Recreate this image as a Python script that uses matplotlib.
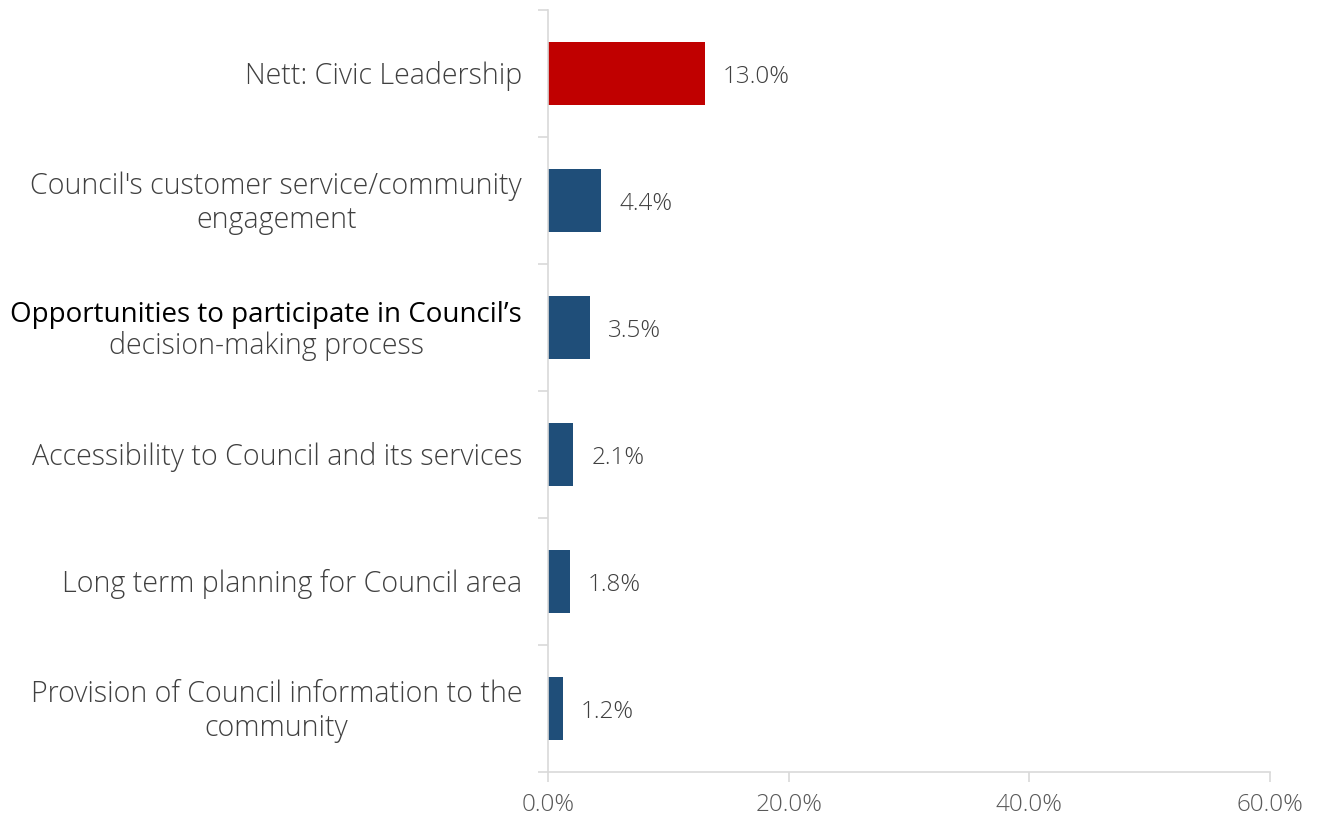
import matplotlib.pyplot as plt

plt.rcParams['font.family'] = ['Open Sans', 'DejaVu Sans']

categories = [
    "Nett: Civic Leadership",
    "Council's customer service/community\nengagement",
    "Opportunities to participate in Council\u2019s\ndecision-making process",
    "Accessibility to Council and its services",
    "Long term planning for Council area",
    "Provision of Council information to the\ncommunity",
]
values = [13.0, 4.4, 3.5, 2.1, 1.8, 1.2]
colors = ["#C00000", "#1F4E79", "#1F4E79", "#1F4E79", "#1F4E79", "#1F4E79"]
xticks = [0, 20, 40, 60]

fig = plt.figure(figsize=(13.2, 8.19), dpi=100)
ax = fig.add_axes([0.4152, 0.0574, 0.5470, 0.9304])

pos = list(range(len(categories)))
ax.barh(pos, values, height=0.5, color=colors)
for y, v in zip(pos, values):
    ax.text(v + 1.5, y + 0.03, f"{v:.1f}%", va="center", ha="left",
            fontsize=17.5, fontweight="light", color="#404040")

ax.set_xlim(0, 60)
ax.set_ylim(len(categories) - 0.5, -0.5)
ax.set_xticks(xticks)
ax.set_xticklabels([f"{t:.1f}%" for t in xticks], fontsize=17.5,
                   fontweight="light", color="#595959")

# category labels drawn as text, right aligned against the spine
ax.set_yticks([])
lab_x = -0.036
trans = ax.get_yaxis_transform()
for y, name in zip(pos, categories):
    if y == 2:
        continue
    ax.text(lab_x, y + 0.02, name, transform=trans, ha="right", va="center",
            multialignment="center", linespacing=1.22,
            fontsize=20.6, fontweight="light", color="#404040")

# third label: black first line, grey second line centred beneath it
first, second = categories[2].split("\n")
t1 = ax.text(lab_x, 1.953, first, transform=trans, ha="right", va="baseline",
             fontsize=20, fontweight="normal", color="#000000")
fig.canvas.draw()
bb = t1.get_window_extent().transformed(ax.transAxes.inverted())
ax.text((bb.x0 + bb.x1) / 2, 2.205, second, transform=trans, ha="center",
        va="baseline", fontsize=20.6, fontweight="light", color="#404040")

# small separator ticks between categories on the left spine
ax.set_yticks([p + 0.5 for p in [-1] + pos], minor=True)
ax.tick_params(axis="y", which="minor", length=7, color="#D9D9D9", width=1.2)
ax.tick_params(axis="x", length=7, color="#D9D9D9", width=1.2, pad=8)

for side in ["top", "right"]:
    ax.spines[side].set_visible(False)
for side in ["left", "bottom"]:
    ax.spines[side].set_color("#D9D9D9")
    ax.spines[side].set_linewidth(1.2)

fig.savefig("out.png", dpi=100)
